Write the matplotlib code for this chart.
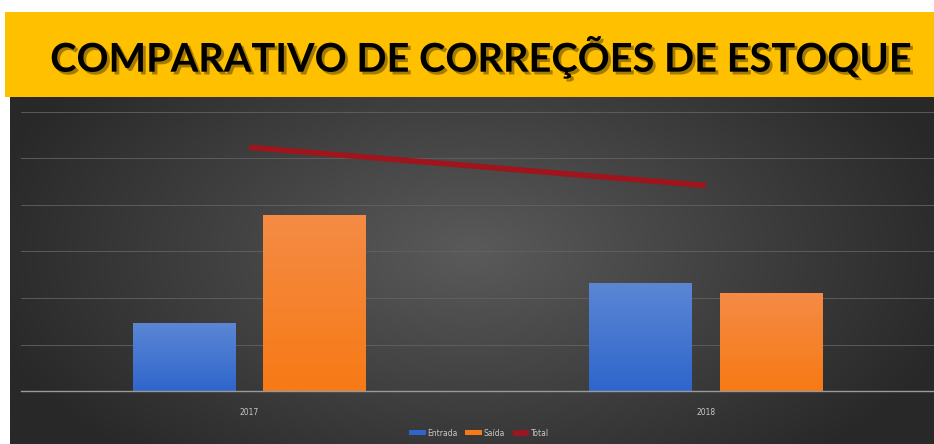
import numpy as np
import matplotlib.pyplot as plt
import matplotlib.patheffects as pe
from matplotlib.colors import LinearSegmentedColormap

# Data
anos = ["2017", "2018"]
entrada = [73, 116]
saida = [189, 105]
total = [262, 221]

W, H = 934, 444
fig = plt.figure(figsize=(W / 100, H / 100), dpi=100)
fig.patch.set_facecolor("white")

# dark background with radial gradient
bg = fig.add_axes([10 / W, 0, 1 - 10 / W, 1 - 97 / H])
bg.set_axis_off()
yy, xx = np.mgrid[0:1:300j, 0:1:600j]
r = np.sqrt(((xx - 0.5) / 0.55) ** 2 + ((yy - 0.45) / 0.8) ** 2)
bg_cmap = LinearSegmentedColormap.from_list("bg", ["#5a5a5a", "#282828"])
bg.imshow(np.clip(r, 0, 1), cmap=bg_cmap, aspect="auto", extent=[0, 1, 0, 1],
          vmin=0, vmax=1)

# yellow title banner
ban = fig.add_axes([5 / W, 1 - 97 / H, 1 - 5 / W, 85 / H])
ban.set_axis_off()
ban.add_patch(plt.Rectangle((0, 0), 1, 1, color="#ffc000", transform=ban.transAxes))
ban.text(0.513, 0.47, "COMPARATIVO DE CORREÇÕES DE ESTOQUE", ha="center", va="center",
         fontsize=28.6, fontweight="bold", family="Lato", color="black",
         transform=ban.transAxes,
         path_effects=[pe.withSimplePatchShadow(offset=(2, -2), shadow_rgbFace="#6a4c00", alpha=0.6)])

# main plot area
ax = fig.add_axes([21 / W, 1 - 391 / H, 1 - 21 / W, 279 / H])
ax.set_facecolor("none")
x = np.arange(len(anos))
w = 0.225
off = 0.143


def gradient_bars(xpos, vals, top_col, bot_col, label):
    bars = ax.bar(xpos, vals, w, color=bot_col, label=label, zorder=2)
    cmap = LinearSegmentedColormap.from_list(label, [bot_col, top_col])
    grad = np.linspace(0, 1, 100).reshape(-1, 1)
    for b in bars:
        x0, y0 = b.get_x(), b.get_y()
        im = ax.imshow(grad, cmap=cmap, origin="lower", aspect="auto", zorder=2.5,
                       extent=[x0, x0 + b.get_width(), y0, y0 + b.get_height()])
        im.set_clip_path(b)
    return bars


b1 = gradient_bars(x - off, entrada, "#5b86d4", "#2f66cc", "Entrada")
b2 = gradient_bars(x + off, saida, "#f48b45", "#f77a15", "Saída")
ln, = ax.plot(x, total, color="#a0141e", linewidth=4, label="Total", zorder=3,
              solid_capstyle="butt")

ax.set_xlim(-0.5, 1.5)
ax.set_ylim(0, 300)
ax.set_yticks(np.arange(0, 301, 50))
ax.yaxis.grid(True, color="#626262", linewidth=0.6, zorder=0)
ax.set_axisbelow(True)
ax.tick_params(axis="y", left=False, labelleft=False)
ax.set_xticks(x)
ax.set_xticklabels(anos)
ax.tick_params(axis="x", length=0, labelsize=5.5, labelcolor="#c8c8c8", pad=12)
for s in ["top", "right", "left"]:
    ax.spines[s].set_visible(False)
ax.spines["bottom"].set_color("#9a9a9a")
ax.spines["bottom"].set_linewidth(1)

fig.legend([b1, b2, ln], ["Entrada", "Saída", "Total"], loc="center",
           bbox_to_anchor=(479 / W, 1 - 433 / H), ncol=3,
           frameon=False, fontsize=5.5, labelcolor="#c8c8c8",
           handlelength=2.2, handleheight=0.6, handletextpad=0.2, columnspacing=1.0)

fig.savefig("out.png", dpi=100)
